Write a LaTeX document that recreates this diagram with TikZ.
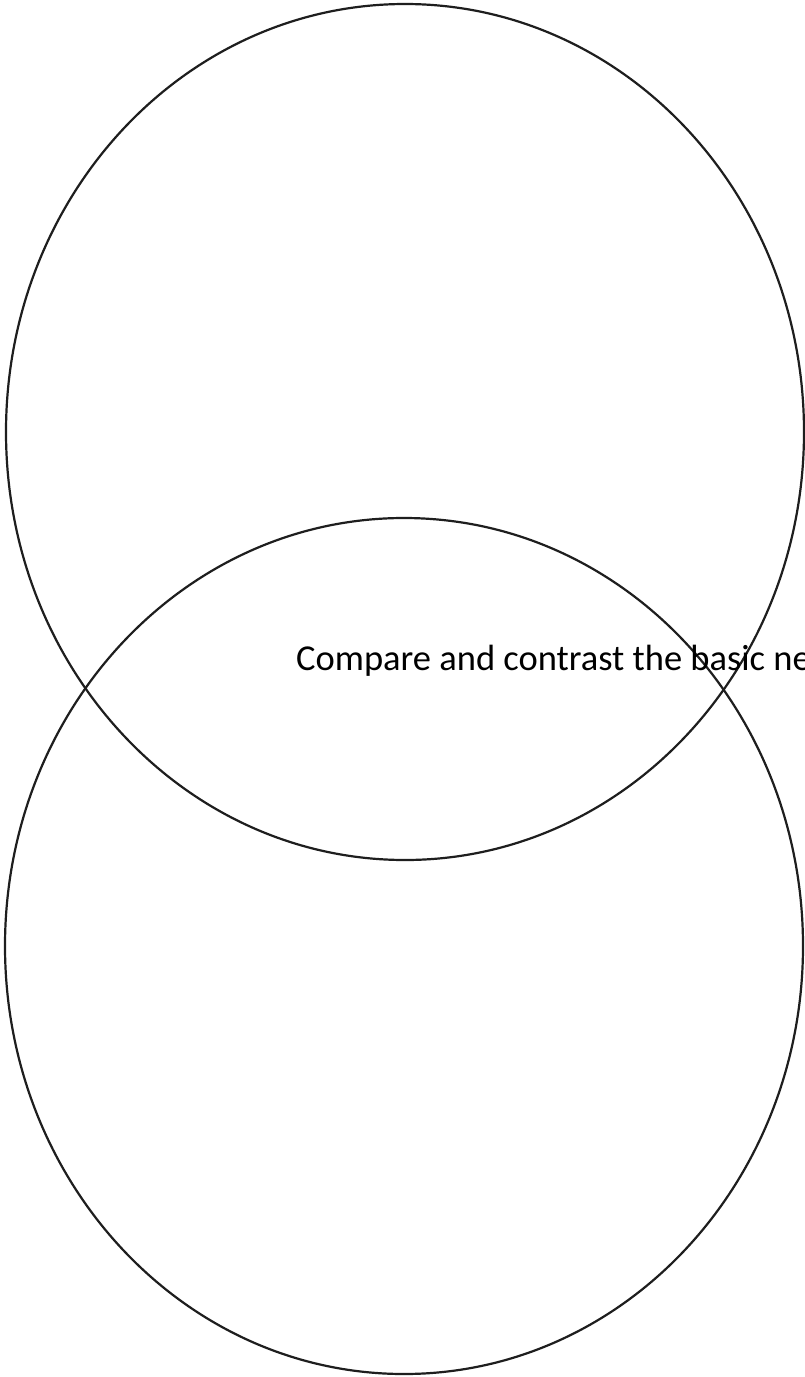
\documentclass[tikz,border=0pt]{standalone}
\usepackage{fontspec}
\setmainfont{Carlito}
\usetikzlibrary{shapes.geometric}
\definecolor{ink}{HTML}{1E1E1E}
\tikzset{
  ring/.style={draw=ink, line width=2.2pt, ellipse, inner sep=0pt, minimum width=798pt, minimum height=856pt},
  label/.style={font=\fontsize{36.5}{42}\selectfont, text=black, inner sep=0pt, anchor=base west}
}
\begin{document}
\begin{tikzpicture}[x=1pt,y=-1pt]
\useasboundingbox[fill=white] (0,0) rectangle (804,1377);
\node[ring] (upper) at (405,432) {};
\node[ring] (lower) at (404,946) {};
\node[label] (title) at (296,670) {Compare and contrast the basic ne};
\end{tikzpicture}
\end{document}
